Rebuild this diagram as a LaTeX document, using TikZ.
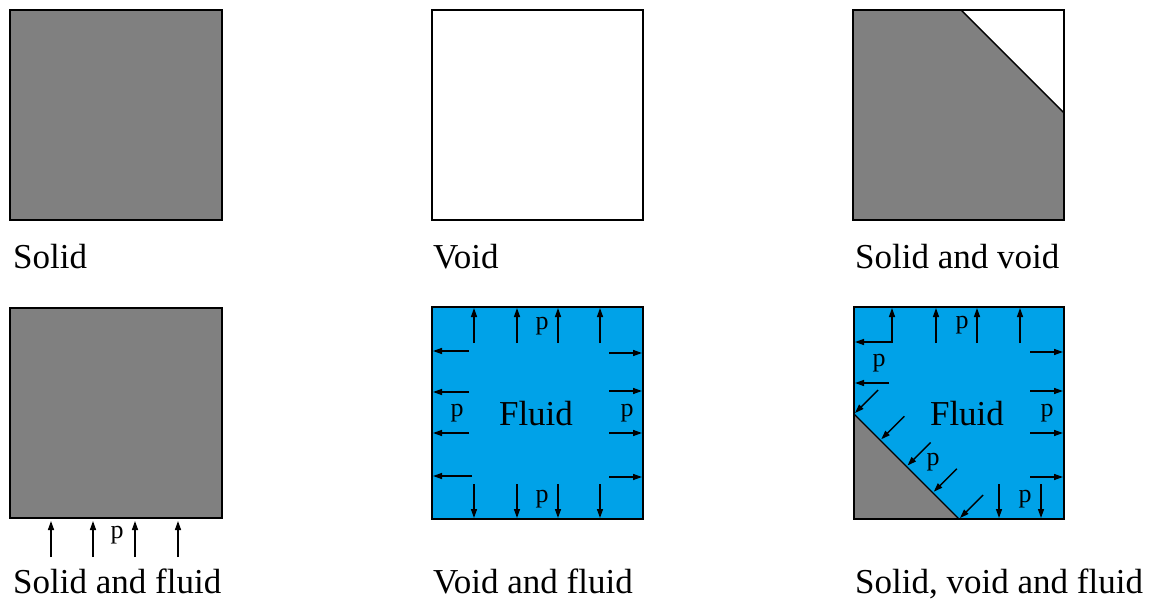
\documentclass[tikz,border=0pt]{standalone}
\usepackage{fontspec}
\setmainfont{Liberation Serif}
\usetikzlibrary{arrows.meta,calc}
\definecolor{solidgray}{HTML}{808080}
\definecolor{fluidblue}{HTML}{00A2E8}
\begin{document}
\begin{tikzpicture}[x=1pt,y=-1pt,
  cell/.style={draw=black,line width=1.6pt},
  edge/.style={draw=black,line width=1.4pt},
  caption/.style={anchor=base west,inner sep=0pt,font=\fontsize{35}{40}\selectfont},
  plabel/.style={inner sep=0pt,font=\fontsize{26}{30}\selectfont},
  fluidlabel/.style={anchor=base,inner sep=0pt,font=\fontsize{35}{40}\selectfont},
  parrow/.style={line width=1.4pt,-{Triangle[length=9pt,width=6pt]}}]
\useasboundingbox (0,0) rectangle (1153,602);

% --- Solid ---
\draw[cell,fill=solidgray] (10,10) rectangle (222,220);
\node[caption] (capSolid) at (13,268) {Solid};

% --- Void ---
\draw[cell,fill=white] (432,10) rectangle (643,220);
\node[caption] (capVoid) at (433,268) {Void};

% --- Solid and void ---
\fill[solidgray] (853,10) rectangle (1064,220);
\fill[white] (961,10) -- (1064,10) -- (1064,113) -- cycle;
\draw[edge] (961,10) -- (1064,113);
\draw[cell] (853,10) rectangle (1064,220);
\node[caption] (capSV) at (855,268) {Solid and void};

% --- Solid and fluid ---
\draw[cell,fill=solidgray] (10,308) rectangle (222,518);
\foreach \x in {51,93,135,178}
  \draw[parrow] (\x,557) -- (\x,521);
\node[plabel] (pSF) at (117,535) {p};
\node[caption] (capSF) at (13,593) {Solid and fluid};

% --- Void and fluid ---
\draw[cell,fill=fluidblue] (432,307) rectangle (643,519);
\foreach \x in {474,517,558,600} {
  \draw[parrow] (\x,343) -- (\x,308);
  \draw[parrow] (\x,484) -- (\x,518);
}
\foreach \y/\s in {351/469,392/469,433/469,476/472}
  \draw[parrow] (\s,\y) -- (433,\y);
\foreach \y in {353,391,433,477}
  \draw[parrow] (609,\y) -- (642,\y);
\node[plabel] (pVFt) at (542,326) {p};
\node[plabel] (pVFl) at (457,413) {p};
\node[plabel] (pVFr) at (627,413) {p};
\node[plabel] (pVFb) at (542,499) {p};
\node[fluidlabel] (fVF) at (536,425) {Fluid};
\node[caption] (capVF) at (433,593) {Void and fluid};

% --- Solid, void and fluid ---
\fill[fluidblue] (854,307) rectangle (1064,519);
\fill[solidgray] (854,414) -- (959,519) -- (854,519) -- cycle;
\draw[edge] (854,414) -- (959,519);
\draw[cell] (854,307) rectangle (1064,519);
\coordinate (dA) at (854,414);
\coordinate (dB) at (959,519);
\foreach \x in {892,936,977,1020}
  \draw[parrow] (\x,343) -- (\x,308);
\draw[parrow] (892,342) -- (855,342);
\draw[parrow] (889,383) -- (855,383);
\foreach \t in {0,0.25,0.5,0.75,1}
  \draw[parrow] ($(dA)!\t!(dB)+(24,-24)$) -- ($(dA)!\t!(dB)+(1,-1)$);
\foreach \y in {352,391,433,477}
  \draw[parrow] (1030,\y) -- (1063,\y);
\foreach \x in {999,1041}
  \draw[parrow] (\x,484) -- (\x,518);
\node[plabel] (pSVFt) at (962,325) {p};
\node[plabel] (pSVFl) at (879,363) {p};
\node[plabel] (pSVFd) at (933,462) {p};
\node[plabel] (pSVFr) at (1047,413) {p};
\node[plabel] (pSVFb) at (1025,499) {p};
\node[fluidlabel] (fSVF) at (967,425) {Fluid};
\node[caption] (capSVF) at (855,593) {Solid, void and fluid};
\end{tikzpicture}
\end{document}
